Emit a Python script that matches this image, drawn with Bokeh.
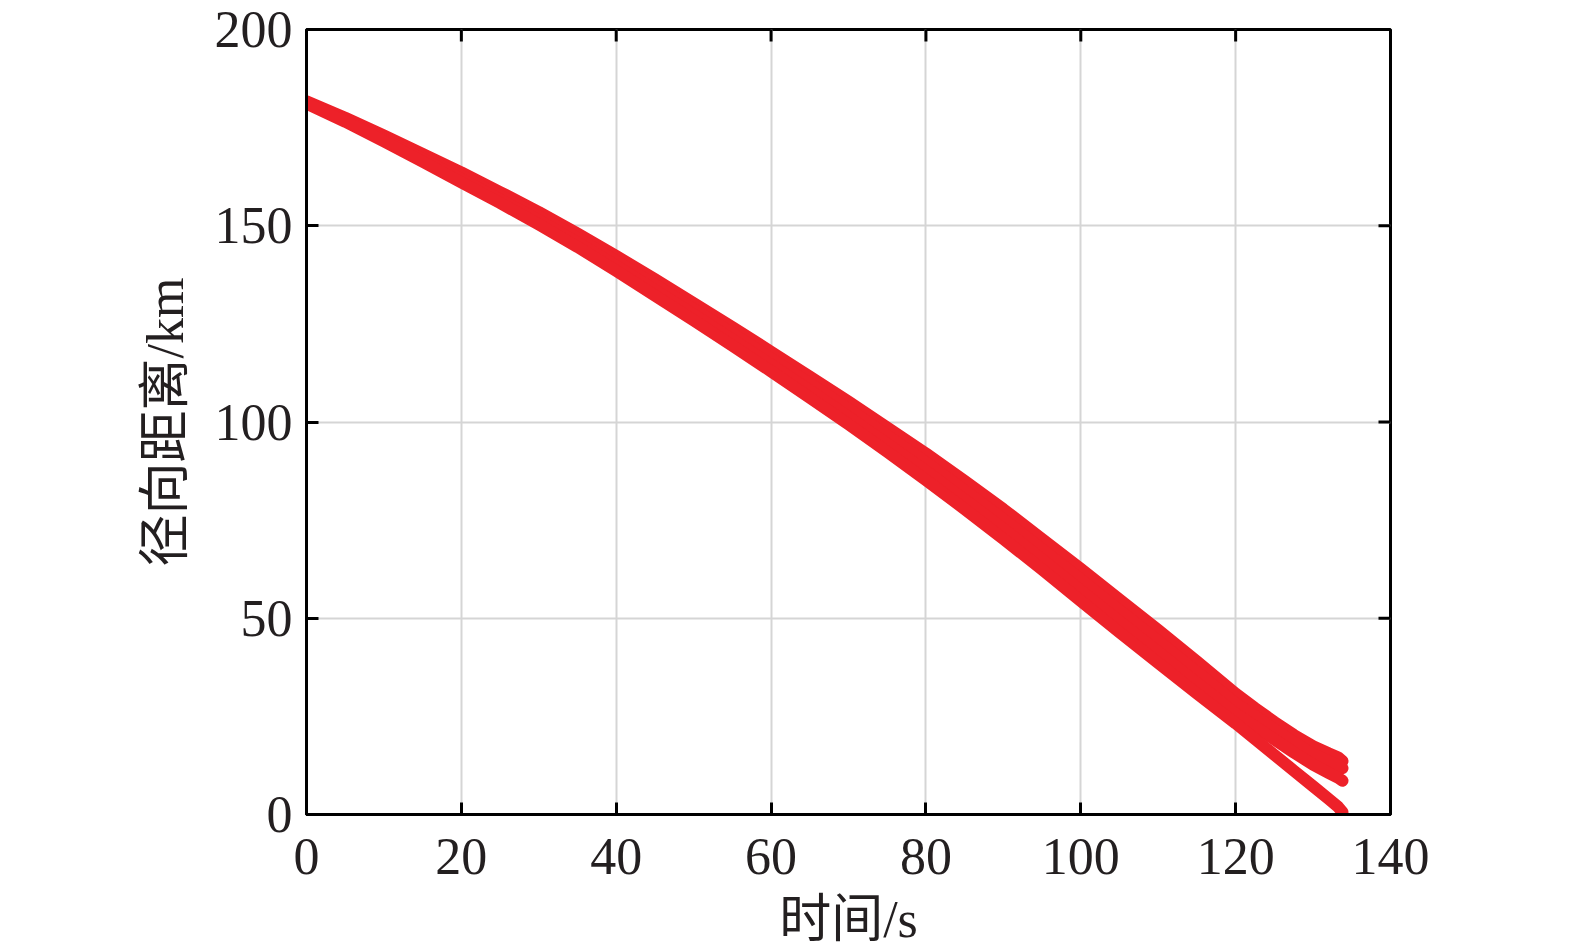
import math
from bokeh.plotting import figure
from bokeh.models import Range1d, FixedTicker
from bokeh.embed import file_html
from bokeh.resources import INLINE

# time samples (s)
t = [0, 5, 10, 15, 20, 25, 30, 35, 40, 45, 50, 55, 60, 65, 70, 75, 80, 85, 90,
     95, 100, 105, 110, 115, 120, 122.5, 125, 127.5, 130, 132, 133.2, 133.8]

# radial distance trajectories (km)
traj_a = [181.7, 177.5, 173.0, 168.3, 163.6, 158.6, 153.5, 148.0, 142.3, 136.4,
          130.3, 124.2, 117.9, 111.6, 105.2, 98.6, 92.0, 85.0, 77.8, 70.2,
          62.6, 54.8, 47.0, 39.0, 30.8, 27.1, 23.6, 20.3, 17.4, 15.6, 14.6, 13.6]
traj_b = [181.5, 177.2, 172.5, 167.6, 162.7, 157.7, 152.4, 146.9, 141.0, 135.0,
          128.8, 122.6, 116.2, 109.8, 103.3, 96.6, 89.7, 82.6, 75.2, 67.6,
          59.9, 52.0, 44.2, 36.3, 28.3, 25.1, 21.7, 18.4, 15.4, 13.6, 12.5, 11.8]
traj_c = [181.3, 176.8, 172.0, 167.0, 161.9, 156.7, 151.4, 145.7, 139.8, 133.6,
          127.4, 121.0, 114.6, 108.0, 101.3, 94.4, 87.5, 80.2, 72.8, 65.0,
          57.1, 49.2, 41.4, 33.5, 25.7, 22.4, 19.1, 15.8, 12.7, 10.6, 9.4, 8.6]
traj_d = [181.1, 176.5, 171.5, 166.3, 161.0, 155.8, 150.3, 144.6, 138.5, 132.2,
          125.9, 119.4, 112.9, 106.2, 99.4, 92.4, 85.2, 77.8, 70.2, 62.4,
          54.4, 46.4, 38.6, 30.8, 23.2, 19.2, 15.2, 11.2, 7.2, 4.0, 2.0, 0.6]

x_ticks = [0, 20, 40, 60, 80, 100, 120, 140]
y_ticks = [0, 50, 100, 150, 200]

x_label = "时间/s"
y_label = "径向距离/km"

FONT = "Liberation Serif, Noto Sans CJK SC"
RED = "#ED2129"
TXT = "#231F20"

W, H = 1570, 950
p = figure(width=W, height=H, output_backend="svg", toolbar_location=None,
           x_range=Range1d(x_ticks[0], x_ticks[-1]),
           y_range=Range1d(y_ticks[0], y_ticks[-1]),
           min_border_left=306, min_border_right=W - 1390,
           min_border_top=29, min_border_bottom=H - 816)

p.background_fill_color = "white"
p.border_fill_color = "white"
p.outline_line_color = "black"
p.outline_line_width = 3

for ys in (traj_a, traj_b, traj_c, traj_d):
    p.line(t, ys, line_color=RED, line_width=12, line_cap="round",
           line_join="round")

for ax, ticks in ((p.xaxis[0], x_ticks), (p.yaxis[0], y_ticks)):
    ax.ticker = FixedTicker(ticks=ticks)
    ax.major_tick_in = 12
    ax.major_tick_out = 0
    ax.minor_tick_in = 0
    ax.minor_tick_out = 0
    ax.major_tick_line_width = 3
    ax.major_tick_line_color = "black"
    ax.axis_line_width = 3
    ax.axis_line_color = "black"
    ax.major_label_text_font = FONT
    ax.major_label_text_font_size = "52px"
    ax.major_label_text_color = TXT
    ax.axis_label_text_font = FONT
    ax.axis_label_text_font_size = "52px"
    ax.axis_label_text_font_style = "normal"
    ax.axis_label_text_color = TXT

p.xaxis[0].axis_label = x_label
p.yaxis[0].axis_label = y_label
p.xaxis[0].major_label_standoff = 24
p.yaxis[0].major_label_standoff = 14
p.xaxis[0].axis_label_standoff = 14
p.yaxis[0].axis_label_standoff = 18

# mirrored inward ticks on the top and right frame edges
p.ray(x=[x_ticks[-1]] * len(y_ticks), y=y_ticks, length=12, length_units="screen",
      angle=math.pi, line_color="black", line_width=3)
p.ray(x=x_ticks, y=[y_ticks[-1]] * len(x_ticks), length=12, length_units="screen",
      angle=-math.pi / 2, line_color="black", line_width=3)

p.xgrid.ticker = FixedTicker(ticks=x_ticks)
p.ygrid.ticker = FixedTicker(ticks=y_ticks)
p.xgrid.grid_line_color = "#D5D5D5"
p.ygrid.grid_line_color = "#D5D5D5"
p.xgrid.grid_line_width = 2
p.ygrid.grid_line_width = 2

open("out.html", "w").write(file_html(p, INLINE))
